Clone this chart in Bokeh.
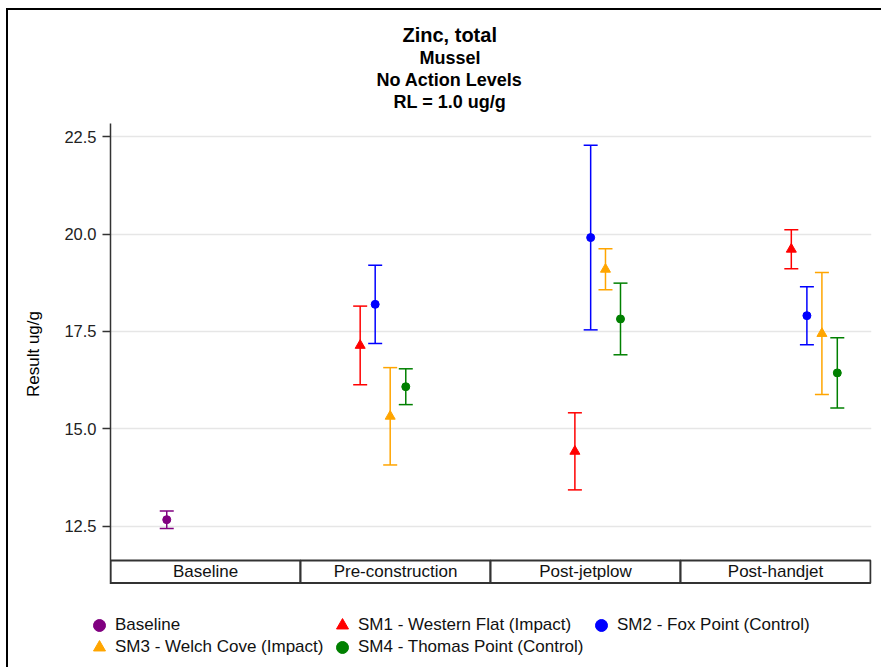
from bokeh.plotting import figure
from bokeh.layouts import column, row
from bokeh.models import (ColumnDataSource, FixedTicker, Legend, LegendItem, Range1d, Title,
                          PrintfTickFormatter)
from bokeh.embed import file_html
from bokeh.resources import INLINE
from bokeh.core.properties import value

# ---------------- data ----------------
title_lines = ["Zinc, total", "Mussel", "No Action Levels", "RL = 1.0 ug/g"]
y_axis_label = "Result ug/g"
periods = ["Baseline", "Pre-construction", "Post-jetplow", "Post-handjet"]
y_ticks = [12.5, 15.0, 17.5, 20.0, 22.5]

series_names = ["Baseline", "SM1 - Western Flat (Impact)", "SM2 - Fox Point (Control)",
                "SM3 - Welch Cove (Impact)", "SM4 - Thomas Point (Control)"]
series_colors = ["#800080", "#ff0000", "#0000ff", "#ffa500", "#008000"]
series_markers = ["circle", "triangle", "circle", "triangle", "circle"]

# sample position along the period axis (period index + sampling offset)
baseline_x = [0.296]
baseline_mean = [12.665]
baseline_low = [12.44]
baseline_high = [12.89]

sm1_x = [1.314, 2.444, 3.583]
sm1_mean = [17.14, 14.42, 19.61]
sm1_low = [16.13, 13.43, 19.11]
sm1_high = [18.15, 15.41, 20.11]

sm2_x = [1.393, 2.527, 3.665]
sm2_mean = [18.195, 19.91, 17.905]
sm2_low = [17.19, 17.54, 17.16]
sm2_high = [19.20, 22.28, 18.65]

sm3_x = [1.472, 2.605, 3.744]
sm3_mean = [15.32, 19.095, 17.445]
sm3_low = [14.07, 18.57, 15.88]
sm3_high = [16.57, 19.62, 19.01]

sm4_x = [1.554, 2.684, 3.825]
sm4_mean = [16.08, 17.82, 16.435]
sm4_low = [15.62, 16.90, 15.53]
sm4_high = [16.54, 18.74, 17.34]

series_x = [baseline_x, sm1_x, sm2_x, sm3_x, sm4_x]
series_mean = [baseline_mean, sm1_mean, sm2_mean, sm3_mean, sm4_mean]
series_low = [baseline_low, sm1_low, sm2_low, sm3_low, sm4_low]
series_high = [baseline_high, sm1_high, sm2_high, sm3_high, sm4_high]

# ---------------- layout constants ----------------
FONT = "Liberation Sans"
Y_START, Y_END = 11.0, 22.84
BOX_BOTTOM, BOX_TOP = 11.04, 11.618
W = 873

p = figure(width=W, height=574, output_backend="svg", toolbar_location=None,
           x_range=Range1d(0, len(periods) + 0.005), y_range=Range1d(Y_START, Y_END),
           x_axis_location=None, title=None,
           min_border_left=102, min_border_right=10, min_border_top=113, min_border_bottom=0)
p.outline_line_color = None
p.background_fill_color = "white"
p.border_fill_color = "white"

# y axis
p.yaxis.ticker = FixedTicker(ticks=y_ticks)
p.yaxis.formatter = PrintfTickFormatter(format="%.1f")
p.yaxis.axis_label = y_axis_label
p.yaxis.axis_label_text_font = FONT
p.yaxis.axis_label_text_font_size = "17px"
p.yaxis.axis_label_text_font_style = "normal"
p.yaxis.axis_label_text_color = "black"
p.yaxis.axis_label_standoff = 18
p.yaxis.major_label_text_font = FONT
p.yaxis.major_label_text_font_size = "16.5px"
p.yaxis.major_label_text_color = "#222222"
p.yaxis.major_label_standoff = 6
p.yaxis.axis_line_color = "#333333"
p.yaxis.axis_line_width = 1.5
p.yaxis.major_tick_line_color = "#333333"
p.yaxis.major_tick_line_width = 1.5
p.yaxis.major_tick_out = 8
p.yaxis.major_tick_in = 0
p.yaxis.minor_tick_line_color = None

p.xgrid.visible = False
p.ygrid.ticker = FixedTicker(ticks=y_ticks)
p.ygrid.grid_line_color = "#e6e6e6"
p.ygrid.grid_line_width = 1.5

# category boxes along the bottom
n = len(periods)
box_src = ColumnDataSource(dict(
    left=list(range(n)), right=[i + 1 for i in range(n)],
    bottom=[BOX_BOTTOM] * n, top=[BOX_TOP] * n,
    xc=[i + 0.5 for i in range(n)], yc=[(BOX_BOTTOM + BOX_TOP) / 2] * n, label=periods))
p.quad(left="left", right="right", bottom="bottom", top="top", source=box_src,
       fill_color="white", line_color="#333333", line_width=2)
p.text(x="xc", y="yc", text="label", source=box_src, text_align="center",
       text_baseline="middle", text_font=value(FONT), text_font_size="17px", text_color="#111111")

# series
sources = []
for name, color, marker, xs, ms, lo, hi in zip(series_names, series_colors, series_markers,
                                               series_x, series_mean, series_low, series_high):
    src = ColumnDataSource(dict(x=xs, mean=ms, low=lo, high=hi))
    sources.append(src)
    p.segment(x0="x", y0="low", x1="x", y1="high", source=src, line_color=color, line_width=1.5)
    p.scatter(x="x", y="low", source=src, marker="dash", size=14, line_color=color, line_width=1.5)
    p.scatter(x="x", y="high", source=src, marker="dash", size=14, line_color=color, line_width=1.5)
    p.scatter(x="x", y="mean", source=src, marker=marker,
              size=8 if marker == "circle" else 10, fill_color=color, line_color=color)

# titles (stacked upward from the plot, left-aligned with offsets so they centre at the same x)
p.add_layout(Title(text=" ", text_font_size="9px", standoff=0), "above")  # gap above the plot
title_sizes = ["20px", "18px", "18px", "18px"]
title_offsets = [292, 309, 266, 283]
for txt, fs, off in reversed(list(zip(title_lines, title_sizes, title_offsets))):
    p.add_layout(Title(text=txt, align="left", offset=off, text_font=FONT, text_font_style="bold",
                       text_font_size=fs, text_color="black", standoff=0), "above")

# legend strip below the plot (same series sources, view placed away from the data)
q = figure(width=W, height=83, output_backend="svg", toolbar_location=None,
           x_range=Range1d(100, 101), y_range=Range1d(100, 101), x_axis_location=None,
           y_axis_location=None, title=None, min_border=0)
q.outline_line_color = None
q.grid.visible = False
q.background_fill_color = "white"
q.border_fill_color = "white"
legend_renderers = [q.scatter(x="x", y="mean", source=src, marker=mk, fill_color=c, line_color=c)
                    for src, mk, c in zip(sources, series_markers, series_colors)]
# legend entries laid out in three columns, two rows
legend_slots = [(76, 27), (319, 27), (578, 27), (76, 5), (319, 5)]
for nm, r, loc in zip(series_names, legend_renderers, legend_slots):
    q.add_layout(Legend(items=[LegendItem(label=nm, renderers=[r])], location=loc,
                        glyph_width=30, glyph_height=30, spacing=0, label_standoff=1,
                        padding=0, margin=0, border_line_color=None, background_fill_alpha=0,
                        label_text_font=FONT, label_text_font_size="17px",
                        label_text_color="#111111"), "center")

layout = column(p, row(q), spacing=0, margin=(8, 0, 0, 6),
                styles={"border-left": "2px solid black", "border-top": "2px solid black"})

open("out.html", "w").write(file_html(layout, INLINE))
